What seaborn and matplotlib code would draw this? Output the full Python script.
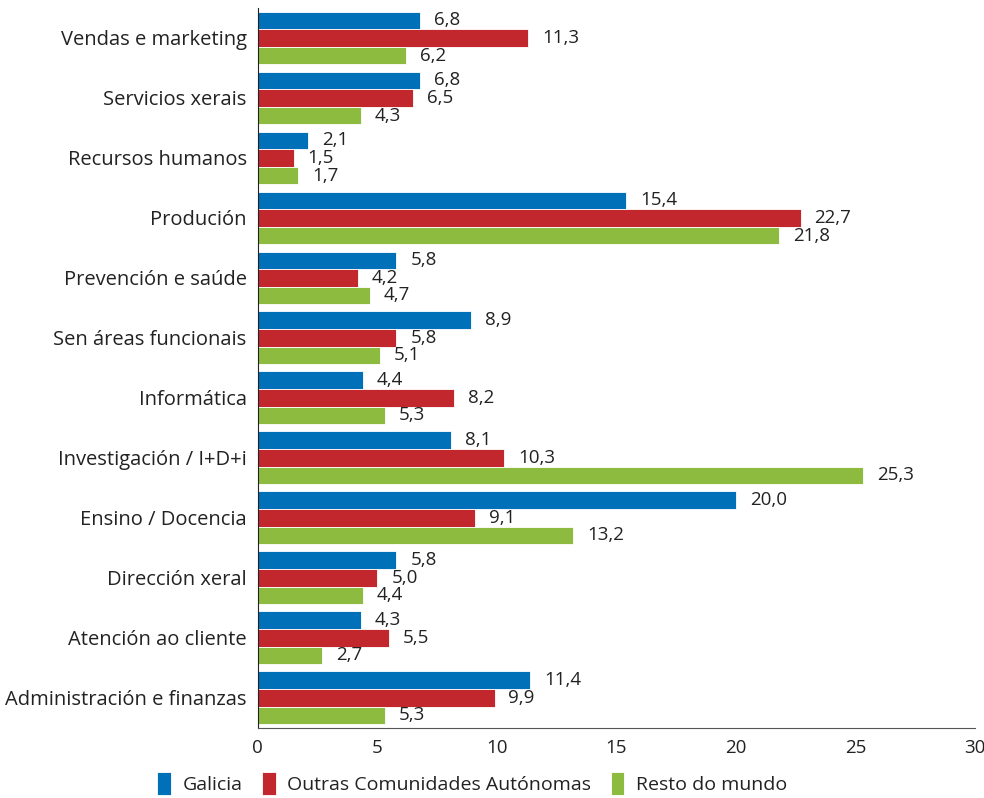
import pandas as pd
import matplotlib.pyplot as plt
import seaborn as sns

categories = ["Vendas e marketing", "Servicios xerais", "Recursos humanos", "Produción",
              "Prevención e saúde", "Sen áreas funcionais", "Informática",
              "Investigación / I+D+i", "Ensino / Docencia", "Dirección xeral",
              "Atención ao cliente", "Administración e finanzas"]
galicia = [6.8, 6.8, 2.1, 15.4, 5.8, 8.9, 4.4, 8.1, 20.0, 5.8, 4.3, 11.4]
outras = [11.3, 6.5, 1.5, 22.7, 4.2, 5.8, 8.2, 10.3, 9.1, 5.0, 5.5, 9.9]
resto = [6.2, 4.3, 1.7, 21.8, 4.7, 5.1, 5.3, 25.3, 13.2, 4.4, 2.7, 5.3]
series = ["Galicia", "Outras Comunidades Autónomas", "Resto do mundo"]
colors = ["#0070B8", "#C1272D", "#8DBB3F"]

rows = []
for name, vals in zip(series, [galicia, outras, resto]):
    for cat, v in zip(categories, vals):
        rows.append({"area": cat, "serie": name, "valor": v})
df = pd.DataFrame(rows)

sns.set_style("white")
plt.rcParams['font.family'] = ['Open Sans', 'DejaVu Sans']

fig = plt.figure(figsize=(9.84, 7.98), dpi=100)
ax = fig.add_axes([0.262, 0.088, 0.729, 0.902])

sns.barplot(data=df, y="area", x="valor", hue="serie", orient="h",
            palette=colors, saturation=1, width=0.88, order=categories,
            hue_order=series, edgecolor="white", linewidth=0.6, ax=ax,
            legend=True)

for cont in ax.containers:
    labels = [f"{b.get_width():.1f}".replace(".", ",") for b in cont]
    ax.bar_label(cont, labels=labels, padding=10, fontsize=13.5, color="#222222")

ax.set_xlim(0, 30)
ax.set_ylim(len(categories) - 0.5, -0.5)
ax.set_xticks([0, 5, 10, 15, 20, 25, 30])
ax.tick_params(axis="x", length=0, labelsize=13.5, pad=8, colors="#222222")
ax.tick_params(axis="y", length=0, labelsize=14.5, pad=8, colors="#222222")
ax.set_xlabel("")
ax.set_ylabel("")
for s in ["top", "right"]:
    ax.spines[s].set_visible(False)
ax.spines["left"].set_color("#222222")
ax.spines["bottom"].set_color("#555555")

handles, labels = ax.get_legend_handles_labels()
ax.get_legend().remove()
fig.legend(handles, labels, loc="lower center", bbox_to_anchor=(0.48, -0.018),
           ncol=3, frameon=False, fontsize=14, handlelength=0.7,
           handleheight=1.4, handletextpad=0.6, columnspacing=1.0,
           labelcolor="#222222")

fig.savefig("out.png", dpi=100)
